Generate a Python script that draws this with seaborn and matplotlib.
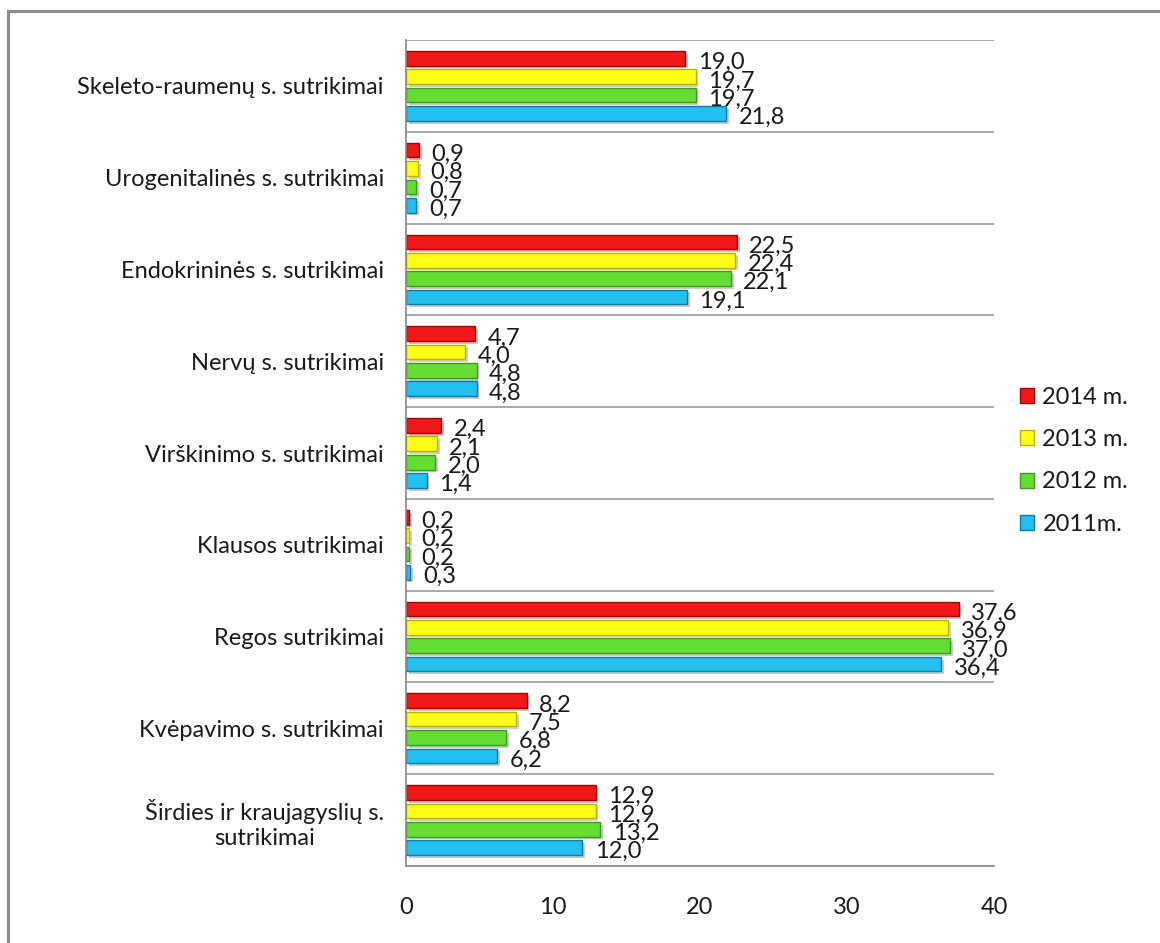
import matplotlib
matplotlib.use("Agg")
import matplotlib.pyplot as plt
import matplotlib.patheffects as pe
from matplotlib.patches import Rectangle, Patch
import seaborn as sns
import pandas as pd

categories = [
    "Skeleto-raumenų s. sutrikimai",
    "Urogenitalinės s. sutrikimai",
    "Endokrininės s. sutrikimai",
    "Nervų s. sutrikimai",
    "Virškinimo s. sutrikimai",
    "Klausos sutrikimai",
    "Regos sutrikimai",
    "Kvėpavimo s. sutrikimai",
    "Širdies ir kraujagyslių s.\nsutrikimai",
]
series = ["2014 m.", "2013 m.", "2012 m.", "2011m."]
v2014 = [19.0, 0.9, 22.5, 4.7, 2.4, 0.2, 37.6, 8.2, 12.9]
v2013 = [19.7, 0.8, 22.4, 4.0, 2.1, 0.2, 36.9, 7.5, 12.9]
v2012 = [19.7, 0.7, 22.1, 4.8, 2.0, 0.2, 37.0, 6.8, 13.2]
v2011 = [21.8, 0.7, 19.1, 4.8, 1.4, 0.3, 36.4, 6.2, 12.0]
xticks = [0, 10, 20, 30, 40]

colors = ["#F21818", "#FFFF18", "#66DD33", "#22C0F0"]
edges = ["#A80000", "#BFB000", "#3C9A1C", "#1279A8"]

rows = []
for s, vals in zip(series, [v2014, v2013, v2012, v2011]):
    for c, v in zip(categories, vals):
        rows.append({"cat": c, "series": s, "value": v})
df = pd.DataFrame(rows)

sns.set_theme(style="white")
plt.rcParams["font.family"] = ["Lato", "DejaVu Sans"]
txt = "#1a1a1a"
fs = 17

fig = plt.figure(figsize=(11.6, 9.43), dpi=100)
ax = fig.add_axes([406 / 1160, 1 - 866 / 943, (994 - 406) / 1160, (866 - 40) / 943])

sns.barplot(data=df, y="cat", x="value", hue="series", order=categories,
            hue_order=series, palette=colors, orient="h", width=0.8, gap=0.2,
            ax=ax, legend=False, errorbar=None, saturation=1)

for cont, ec in zip(ax.containers, edges):
    for bar in cont:
        bar.set_edgecolor(ec)
        bar.set_linewidth(1.0)
        bar.set_path_effects([pe.SimplePatchShadow(offset=(2, -2), alpha=0.25), pe.Normal()])
        w = bar.get_width()
        yc = bar.get_y() + bar.get_height() / 2
        ax.annotate(f"{w:.1f}".replace(".", ","), (w, yc), xytext=(9, -3),
                    textcoords="offset points", ha="left", va="center",
                    fontsize=fs, color=txt)

ax.set_xlim(0, 40)
ax.set_ylim(len(categories) - 0.5, -0.5)
ax.set_xticks(xticks)
ax.set_xticklabels([str(t) for t in xticks], fontsize=fs, color=txt)
ax.tick_params(axis="x", which="major", direction="out", length=6.5, color="#888888", pad=16)
ax.set_yticks(range(len(categories)))
ax.set_yticklabels(categories, fontsize=fs, color=txt, multialignment="center")
ax.tick_params(axis="y", which="major", length=0, pad=16)
ax.set_yticks([i + 0.5 for i in range(-1, len(categories))], minor=True)
ax.tick_params(axis="y", which="minor", direction="out", length=6, color="#888888")
ax.grid(True, axis="y", which="minor", color="#999999", linewidth=1.2)
ax.grid(False, axis="y", which="major")
ax.grid(False, axis="x")
ax.set_xlabel("")
ax.set_ylabel("")
for side in ["top", "right"]:
    ax.spines[side].set_visible(False)
for side in ["left", "bottom"]:
    ax.spines[side].set_color("#888888")
    ax.spines[side].set_linewidth(1.2)

handles = [Patch(facecolor=c, edgecolor=e, label=s) for c, e, s in zip(colors, edges, series)]
fig.legend(handles=handles, loc="upper left", bbox_to_anchor=(1020 / 1160, 1 - 387 / 943),
           frameon=False, fontsize=fs, handlelength=0.6, handleheight=0.6, borderpad=0,
           borderaxespad=0, handletextpad=0.35, labelspacing=0.9, labelcolor=txt)

fig.patches.append(Rectangle((8 / 1160, -0.1), 1.2, 1 - 11 / 943 + 0.1,
                             transform=fig.transFigure, fill=False,
                             edgecolor="#8a8a8a", linewidth=2.2))

fig.savefig("out.png", dpi=100, facecolor="white")
